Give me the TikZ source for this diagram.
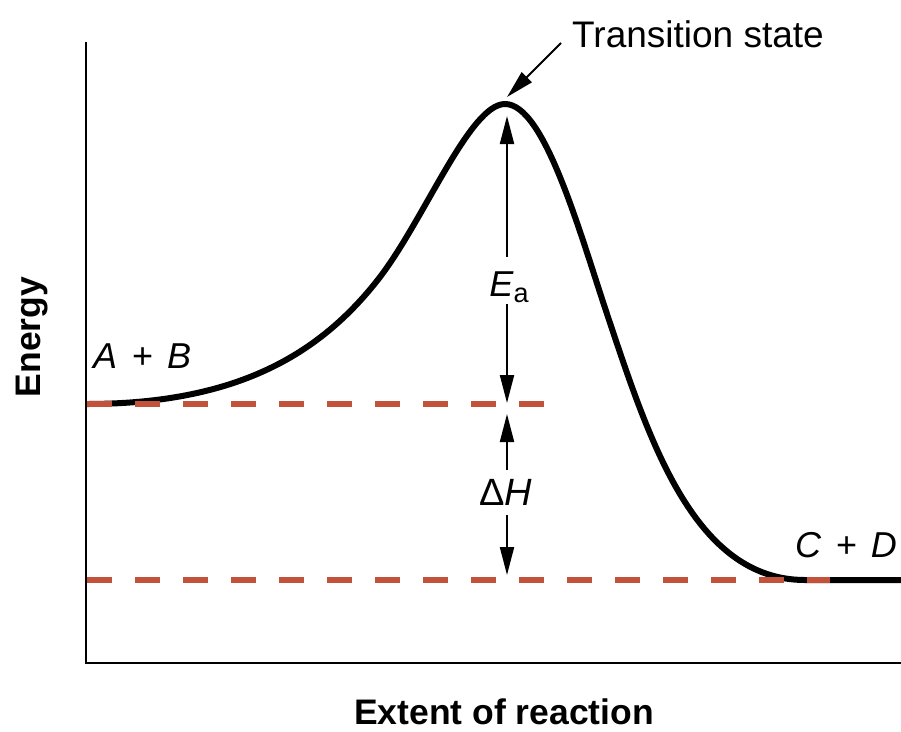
\documentclass[tikz,border=0pt]{standalone}
\usepackage{fontspec}
\setmainfont{Liberation Sans}
\usetikzlibrary{arrows.meta}
\definecolor{dashred}{RGB}{196,82,58}
\begin{document}
\begin{tikzpicture}[x=1pt,y=-1pt,
  axis/.style={line width=2pt,black},
  curve/.style={line width=6pt,black,line join=round},
  level/.style={line width=6pt,dashred,dash pattern=on 25pt off 23pt},
  arr/.style={line width=2pt,-{Triangle[length=28pt,width=14pt]}},
  lbl/.style={font=\fontsize{36}{40}\selectfont\itshape,inner sep=0pt},
  axlbl/.style={font=\fontsize{35.5}{40}\selectfont\bfseries,inner sep=0pt},
]
\useasboundingbox (0,0) rectangle (901,731);
% axes
\coordinate (ytop) at (86,42);
\coordinate (orig) at (86,663);
\coordinate (xend) at (901,663);
\draw[axis] (ytop) -- (orig) -- (xend);
% curve
\coordinate (start) at (86,404);
\coordinate (peak) at (505,104);
\coordinate (fin) at (901,580);
\draw[curve] (start) .. controls (236,404) and (320,355) .. (380,277)
  .. controls (425,218) and (470,104) .. (peak)
  .. controls (545,104) and (580,234) .. (610,323)
  .. controls (650,442) and (695,580) .. (805,580) -- (fin);
% levels
\coordinate (up1) at (87,404);
\coordinate (up2) at (545,404);
\coordinate (lo1) at (87,580);
\coordinate (lo2) at (830,580);
\draw[level] (up1) -- (up2);
\draw[level] (lo1) -- (lo2);
% Ea arrow
\node[lbl,anchor=base] (ea) at (509,296) {E\textup{\fontsize{27}{28}\selectfont\raisebox{-0.25em}{a}}};
\coordinate (eatop) at (507,116);
\coordinate (eabot) at (507,403);
\draw[arr] (507,257) -- (eatop);
\draw[arr] (507,304) -- (eabot);
% Delta H arrow
\node[lbl,anchor=base,font=\fontsize{38}{40}\selectfont\itshape] (dh) at (506,505) {\textup{Δ}H};
\coordinate (dhtop) at (507,414);
\coordinate (dhbot) at (507,575);
\draw[arr] (507,470) -- (dhtop);
\draw[arr] (507,515) -- (dhbot);
% transition state
\node[font=\fontsize{37}{40}\selectfont,anchor=base west,inner sep=0pt] (ts) at (572,47) {Transition state};
\coordinate (tsfrom) at (561,43);
\coordinate (tsto) at (507,97);
\draw[arr] (tsfrom) -- (tsto);
% species
\node[lbl,anchor=base west] (ab) at (93,368) {A\hspace{0.4em}+\hspace{0.4em}B};
\node[lbl,anchor=base west] (cd) at (795,557) {C\hspace{0.4em}+\hspace{0.4em}D};
% axis labels
\node[axlbl,anchor=base,rotate=90] (en) at (40,337) {Energy};
\node[axlbl,anchor=base] (ext) at (504,724) {Extent of reaction};
\end{tikzpicture}
\end{document}
